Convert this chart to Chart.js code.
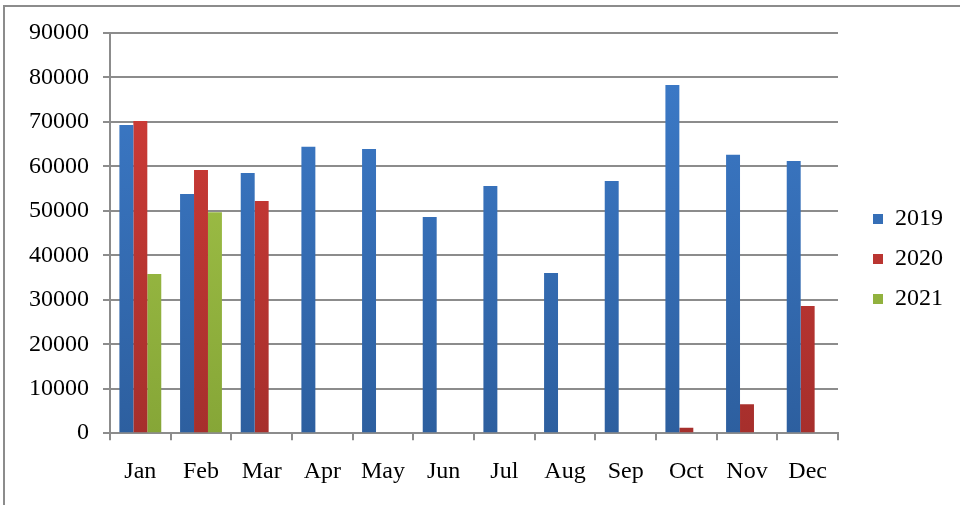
<!DOCTYPE html>
<html>
<head>
<meta charset="utf-8">
<script src="https://cdn.jsdelivr.net/npm/chart.js@4"></script>
<style>
  html, body { margin: 0; padding: 0; background: #fff; }
  #wrap { position: relative; width: 960px; height: 505px; overflow: hidden; }
  #frame { position: absolute; left: 3px; top: 5px; width: 980px; height: 520px;
           border-top: 2px solid #8c8c8c; border-left: 2px solid #8c8c8c; }
  canvas { position: absolute; left: 0; top: 0; }
</style>
</head>
<body>
<div id="wrap">
  <div id="frame"></div>
  <canvas id="salesChart" width="960" height="505"></canvas>
</div>
<script>
var months = ['Jan', 'Feb', 'Mar', 'Apr', 'May', 'Jun', 'Jul', 'Aug', 'Sep', 'Oct', 'Nov', 'Dec'];
var values2019 = [69300, 53800, 58500, 64400, 63900, 48600, 55600, 36000, 56700, 78300, 62600, 61200];
var values2020 = [70200, 59200, 52200, 0, 0, 0, 0, 0, 200, 1200, 6500, 28600];
var values2021 = [35800, 49700, null, null, null, null, null, null, null, null, null, null];

function shade(top, bottom) {
    return function(context) {
        var area = context.chart.chartArea;
        if (!area) return top;
        var g = context.chart.ctx.createLinearGradient(0, area.top, 0, area.bottom);
        g.addColorStop(0, top);
        g.addColorStop(1, bottom);
        return g;
    };
}

// leave a wider gap between the plot and the legend, and lift it a little
var legendExtra = 26;
var legendGap = 19;
var legendLift = 9;
var legendShift = {
    id: 'legendShift',
    beforeInit: function(chart) {
        var fit = chart.legend.fit;
        chart.legend.fit = function() {
            fit.bind(chart.legend)();
            this.width += legendExtra;
        };
    },
    afterLayout: function(chart) {
        chart.legend.left += legendGap;
        chart.legend.top -= legendLift;
        chart.legend.bottom -= legendLift;
    }
};

document.addEventListener('DOMContentLoaded', function() {
    var ctx = document.getElementById('salesChart').getContext('2d');
    var serif = "'Liberation Serif', 'Times New Roman', serif";
    var salesChart = new Chart(ctx, {
        type: 'bar',
        data: {
            labels: months,
            datasets: [{
                label: '2019',
                data: values2019,
                backgroundColor: shade('#3d7ccb', '#2d5f9f')
            },
            {
                label: '2020',
                data: values2020,
                backgroundColor: shade('#d43d38', '#a62f2c')
            },
            {
                label: '2021',
                data: values2021,
                backgroundColor: shade('#a8c94c', '#86a637')
            }]
        },
        plugins: [legendShift],
        options: {
            responsive: false,
            animation: false,
            devicePixelRatio: 1,
            categoryPercentage: 0.69,
            barPercentage: 1.0,
            layout: {
                padding: { left: 15, top: 33, right: 0, bottom: 2 }
            },
            plugins: {
                tooltip: { enabled: false },
                legend: {
                    position: 'right',
                    labels: {
                        boxWidth: 10,
                        boxHeight: 10,
                        padding: 16,
                        color: '#000',
                        font: { family: serif, size: 24 }
                    }
                }
            },
            scales: {
                x: {
                    grid: {
                        offset: true,
                        drawOnChartArea: false,
                        color: '#8c8c8c',
                        lineWidth: 2,
                        tickLength: 7
                    },
                    border: { color: '#8c8c8c', width: 2 },
                    ticks: {
                        color: '#000',
                        padding: 17,
                        font: { family: serif, size: 24 }
                    }
                },
                y: {
                    min: 0,
                    max: 90000,
                    grid: {
                        color: '#8c8c8c',
                        lineWidth: 2,
                        tickLength: 7
                    },
                    border: { color: '#8c8c8c', width: 2 },
                    ticks: {
                        stepSize: 10000,
                        color: '#000',
                        padding: 14,
                        font: { family: serif, size: 24 },
                        callback: function(value) { return value; }
                    }
                }
            }
        }
    });
});
</script>
</body>
</html>
